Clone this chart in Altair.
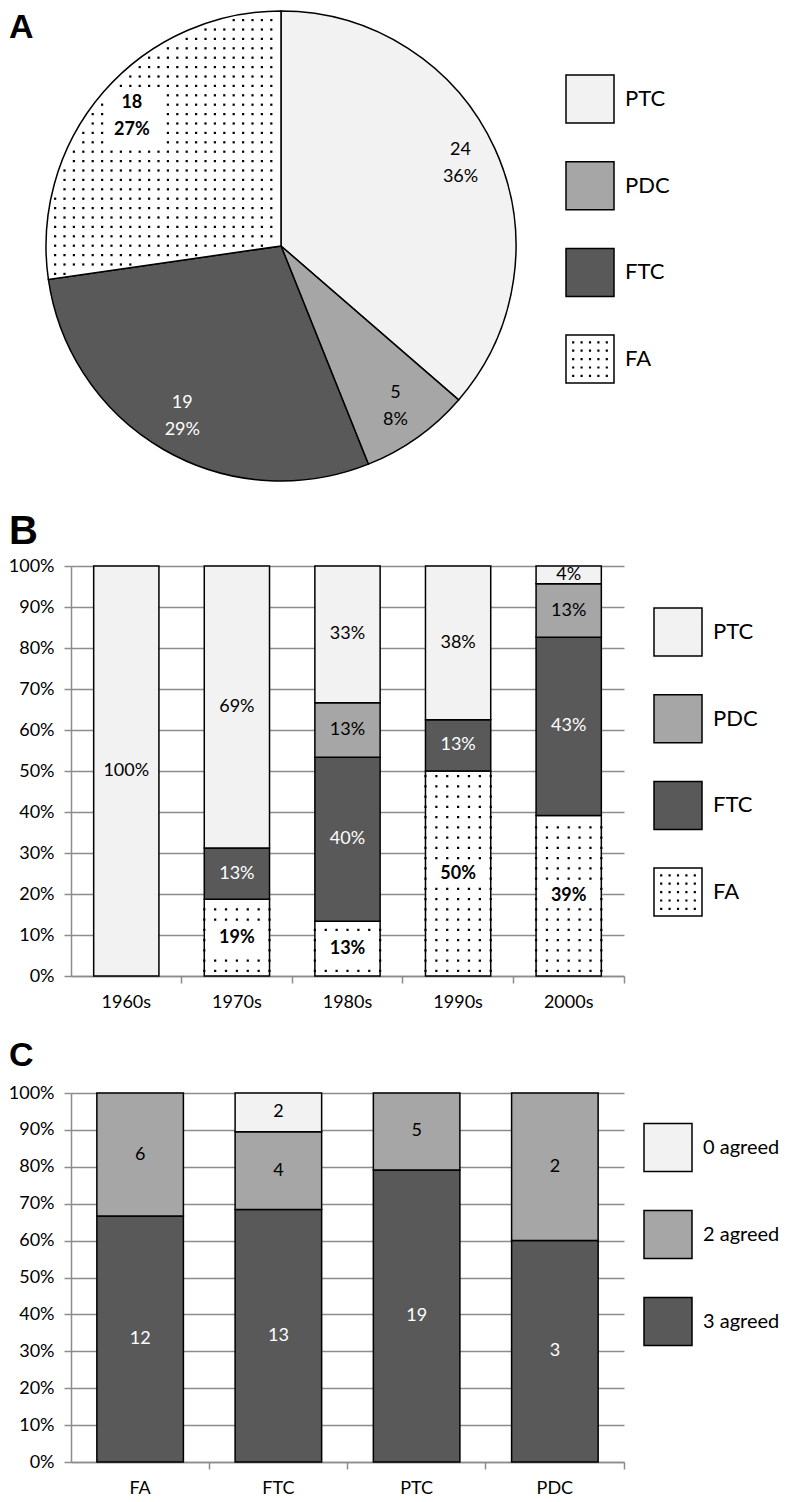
import math
import altair as alt
import pandas as pd

# ---------------- data ----------------
pie_cats = ["PTC", "PDC", "FTC", "FA"]
pie_counts = [24, 5, 19, 18]

decades = ["1960s", "1970s", "1980s", "1990s", "2000s"]
dec_FA = [0, 3, 2, 4, 9]
dec_FTC = [0, 2, 6, 1, 10]
dec_PDC = [0, 0, 2, 0, 3]
dec_PTC = [4, 11, 5, 3, 1]

types = ["FA", "FTC", "PTC", "PDC"]
agree_cats = ["0 agreed", "2 agreed", "3 agreed"]
agree3 = [12, 13, 19, 3]
agree2 = [6, 4, 5, 2]
agree0 = [0, 2, 0, 0]

# ---------------- style ----------------
FILL = {"PTC": "#f2f2f2", "PDC": "#a6a6a6", "FTC": "#595959", "FA": "#ffffff"}
AFILL = {"0 agreed": "#f2f2f2", "2 agreed": "#a6a6a6", "3 agreed": "#595959"}
FONT = "Lato"
LETTER_FONT = "Liberation Sans"
GRID = "#8c8c8c"
LBL = 18
TOP = 54          # common overhang above every panel's view
LH = 27           # line height of the two-line pie labels

# dotted legend symbol path (unit box -1..1)
_dp = []
for gx in [-0.7, -0.35, 0.0, 0.35, 0.7]:
    for gy in [-0.7, -0.35, 0.0, 0.35, 0.7]:
        _dp.append(f"M{gx-0.045:.3f},{gy-0.045:.3f}h0.09v0.09h-0.09Z")
DOTS = "".join(_dp)


def letter(ch, size, x, y):
    return alt.Chart(pd.DataFrame({"t": [ch]})).mark_text(
        align="left", baseline="alphabetic", fontSize=size, fontWeight="bold",
        font=LETTER_FONT, color="black").encode(x=alt.value(x), y=alt.value(y), text="t:N")


def legend(cats, fills, first_center, step, view_h, width, fsize=22, dotted=None):
    n = len(cats)
    a = first_center - step / 2
    df = pd.DataFrame({"cat": cats})
    y = alt.Y("cat:N", axis=None,
              scale=alt.Scale(type="band", domain=cats, range=[a, a + n * step],
                              paddingInner=0, paddingOuter=0))
    sq = alt.Chart(df).mark_point(shape="square", filled=True, size=2304, stroke="black",
                                  strokeWidth=1.5, opacity=1).encode(
        x=alt.value(24), y=y,
        color=alt.Color("cat:N", scale=alt.Scale(domain=cats, range=fills), legend=None))
    layers = [sq]
    if dotted:
        layers.append(alt.Chart(df).transform_filter(f"datum.cat == '{dotted}'").mark_point(
            shape=DOTS, filled=True, size=2304, color="black", strokeWidth=0, opacity=1
        ).encode(x=alt.value(24), y=y))
    layers.append(alt.Chart(df).mark_text(align="left", baseline="middle", fontSize=fsize,
                                          font=FONT, color="black").encode(
        x=alt.value(59), y=y, text="cat:N"))
    return alt.layer(*layers).properties(width=width, height=view_h)


# ---------------- Panel A: pie ----------------
R = 235
CX, CY = 210, R - TOP
PW, PH = 2 * CX, 2 * CY
total = sum(pie_counts)
fa_i = pie_cats.index("FA")
a0 = 2 * math.pi * sum(pie_counts[:fa_i]) / total
a1 = 2 * math.pi * sum(pie_counts[:fa_i + 1]) / total
am = (a0 + a1) / 2
RL = 0.84 * R
lx = CX + RL * math.sin(am)
ly = CY - RL * math.cos(am)

dfA = pd.DataFrame({"cat": pie_cats, "count": pie_counts, "ord": list(range(len(pie_cats)))})
pie_base = alt.Chart(dfA).transform_joinaggregate(tot="sum(count)").transform_calculate(
    lab="datum.count + '\\n' + format(datum.count / datum.tot, '.0%')")
theta = alt.Theta("count:Q", stack=True)
order = alt.Order("ord:Q", sort="ascending")

arcs = pie_base.mark_arc(outerRadius=R, stroke="black", strokeWidth=1.5).encode(
    theta=theta, order=order,
    color=alt.Color("cat:N", scale=alt.Scale(domain=pie_cats, range=[FILL[c] for c in pie_cats]),
                    legend=None))


def pie_text(sel, color, weight):
    arr = "[" + ",".join(f"'{s}'" for s in sel) + "]"
    return pie_base.transform_calculate(
        t=f"indexof({arr}, datum.cat) >= 0 ? datum.lab : ''"
    ).mark_text(radius=RL, lineBreak="\n", fontSize=LBL, font=FONT, color=color,
                fontWeight=weight, lineHeight=LH, dy=-LH / 2).encode(
        theta=theta, order=order, text="t:N")


SP = 9.4
X0, Y0 = CX - R - 5, CY - R - 5
NC = int((2 * R + 10) / SP) + 1
pie_dots = alt.Chart(alt.sequence(0, NC * NC, as_="i")).transform_calculate(
    px=f"{X0} + (datum.i % {NC} + 0.5) * {SP}"
).transform_calculate(
    py=f"{Y0} + (floor(datum.i / {NC}) + 0.5) * {SP}"
).transform_calculate(
    ddx=f"datum.px - {CX}"
).transform_calculate(
    ddy=f"datum.py - {CY}"
).transform_calculate(
    rr="sqrt(datum.ddx * datum.ddx + datum.ddy * datum.ddy)"
).transform_calculate(
    ang="(atan2(datum.ddx, -datum.ddy) + 2 * PI) % (2 * PI)"
).transform_filter(
    f"datum.rr < {R - 4} && datum.ang > {a0} && datum.ang < {a1} && "
    f"datum.rr * sin(datum.ang - {a0}) > 3 && datum.rr * sin({a1} - datum.ang) > 3"
).transform_filter(
    f"!(abs(datum.px - {lx}) < 27 && abs(datum.py - {ly}) < 29)"
).mark_square(size=5, color="black", opacity=1).encode(
    x=alt.X("px:Q", scale=None), y=alt.Y("py:Q", scale=None))

pieA = alt.layer(arcs, pie_dots,
                 pie_text(["PTC", "PDC"], "black", "normal"),
                 pie_text(["FTC"], "white", "normal"),
                 pie_text(["FA"], "black", "bold"),
                 letter("A", 34, -62, -27)).properties(width=PW, height=PH)

legA = legend(pie_cats, [FILL[c] for c in pie_cats], 96 - 8 - TOP, 86.7, PH, 150, dotted="FA")
panelA = alt.hconcat(pieA, legA, spacing=44)

# ---------------- common axis ----------------
yaxis = alt.Axis(format=".0%", values=[i / 10 for i in range(11)], title=None, grid=True,
                 gridColor=GRID, gridWidth=1.5, domainColor=GRID, domainWidth=1.5,
                 tickColor=GRID, tickWidth=1.5, tickSize=7, labelFontSize=LBL, labelFont=FONT,
                 labelColor="black", labelPadding=10)
yscale = alt.Scale(domain=[0, 1], nice=False)


def xaxis(pi, pad):
    return alt.Axis(title=None, labelAngle=0, grid=False, domainColor=GRID, domainWidth=1.5,
                    tickColor=GRID, tickWidth=1.5, tickSize=7, labelFontSize=LBL,
                    labelFont=FONT, labelColor="black", labelPadding=pad,
                    bandPosition=1 + pi / (2 * (1 - pi)))


def stacked_panel(df, xfield, xdomain, pi, catdomain, catfill, width, height,
                  black_cats, white_cats, bold_cats, text_expr, title_layer, xpad,
                  dotted=None):
    base = alt.Chart(df).transform_filter("datum.count > 0").transform_joinaggregate(
        tot="sum(count)", groupby=[xfield]
    ).transform_calculate(pct="datum.count / datum.tot").transform_stack(
        stack="pct", groupby=[xfield], as_=["y0", "y1"],
        sort=[alt.SortField("so", order="ascending")]
    ).transform_calculate(mid="(datum.y0 + datum.y1) / 2").transform_calculate(
        lab=text_expr)
    xenc = alt.X(f"{xfield}:N", scale=alt.Scale(type="band", domain=xdomain, paddingInner=pi,
                                                 paddingOuter=pi / 2), axis=xaxis(pi, xpad))

    def Y(f):
        return alt.Y(f"{f}:Q", scale=yscale, axis=yaxis)

    bars = base.mark_bar(stroke="black", strokeWidth=1.5).encode(
        x=xenc, y=Y("y0"), y2="y1:Q",
        color=alt.Color("cat:N", scale=alt.Scale(domain=catdomain, range=catfill), legend=None))
    layers = [bars]
    if dotted:
        dots = base.transform_filter(f"datum.cat == '{dotted}'").transform_calculate(
            rw="sequence(0, 41)").transform_flatten(["rw"]).transform_calculate(
            cl="sequence(0, 7)").transform_flatten(["cl"]).transform_calculate(
            dy="(datum.rw + 0.5) * 0.025").transform_filter(
            "datum.dy < datum.y1 - 0.006").transform_filter(
            "!(abs(datum.dy - datum.mid) < 0.033 && datum.cl >= 1 && datum.cl <= 5)"
        ).mark_square(size=5, color="black", opacity=1).encode(
            x=xenc, y=Y("dy"),
            xOffset=alt.XOffset("cl:O", scale=alt.Scale(domain=list(range(7)), paddingInner=0,
                                                         paddingOuter=0)))
        layers.append(dots)

    def tl(sel, color, weight):
        arr = "[" + ",".join(f"'{s}'" for s in sel) + "]"
        return base.transform_filter(f"indexof({arr}, datum.cat) >= 0").mark_text(
            fontSize=LBL, font=FONT, color=color, fontWeight=weight, baseline="middle"
        ).encode(x=xenc, y=Y("mid"), text="lab:N")

    if black_cats:
        layers.append(tl(black_cats, "black", "normal"))
    if white_cats:
        layers.append(tl(white_cats, "white", "normal"))
    if bold_cats:
        layers.append(tl(bold_cats, "black", "bold"))
    layers.append(title_layer)
    return alt.layer(*layers).resolve_scale(xOffset="independent").properties(
        width=width, height=height)


# ---------------- Panel B ----------------
rowsB = []
for i, d in enumerate(decades):
    for so, (cat, arr) in enumerate([("FA", dec_FA), ("FTC", dec_FTC), ("PDC", dec_PDC),
                                     ("PTC", dec_PTC)]):
        rowsB.append({"decade": d, "cat": cat, "count": arr[i], "so": so})
dfB = pd.DataFrame(rowsB)

plotB = stacked_panel(dfB, "decade", decades, 0.41, pie_cats, [FILL[c] for c in pie_cats],
                      553, 410, ["PTC", "PDC"], ["FTC"], ["FA"],
                      "format(datum.pct, '.0%')", letter("B", 40, -62, -22), 10, dotted="FA")
legB = legend(pie_cats, [FILL[c] for c in pie_cats], 66, 86.7, 410, 120, dotted="FA")
panelB = alt.hconcat(plotB, legB, spacing=26)

# ---------------- Panel C ----------------
rowsC = []
for i, t in enumerate(types):
    for so, (cat, arr) in enumerate([("3 agreed", agree3), ("2 agreed", agree2),
                                     ("0 agreed", agree0)]):
        rowsC.append({"type": t, "cat": cat, "count": arr[i], "so": so})
dfC = pd.DataFrame(rowsC)

plotC = stacked_panel(dfC, "type", types, 0.374, agree_cats, [AFILL[c] for c in agree_cats],
                      553, 369, ["0 agreed", "2 agreed"], ["3 agreed"], None,
                      "'' + datum.count", letter("C", 34, -62, -27), 10)
legC = legend(agree_cats, [AFILL[c] for c in agree_cats], 54.5, 87, 369, 132, fsize=20)
panelC = alt.hconcat(plotC, legC, spacing=16)

chart = alt.vconcat(panelA, panelB, panelC, spacing=28).resolve_scale(
    color="independent", xOffset="independent").properties(
    padding=0, background="white").configure_view(strokeWidth=0, stroke="transparent")

chart.save("out.html", embed_options={"renderer": "svg", "actions": False})
